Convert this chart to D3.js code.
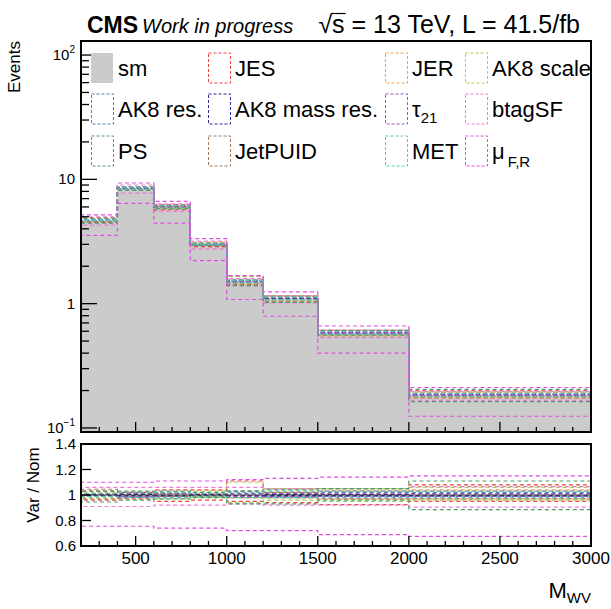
<!DOCTYPE html>
<html>
<head>
<meta charset="utf-8">
<title>M_WV systematics</title>
<style>
  body { margin: 0; background: #fff; }
  svg { display: block; font-family: "Liberation Sans", Arial, sans-serif; }
</style>
</head>
<body>
<script src="https://cdn.jsdelivr.net/npm/d3@7/dist/d3.min.js"></script>
<script>
// bin edges and nominal yields
var binEdges = [200, 400, 600, 800, 1000, 1200, 1500, 2000, 3000];
var smYield = [4.7, 8.5, 6.0, 3.0, 1.5, 1.1, 0.58, 0.184];

// variation / nominal per bin
var jesUp = [1.03, 1.02, 1.04, 1.04, 1.11, 1.05, 1.05, 1.08];
var jesDown = [0.96, 0.97, 0.95, 0.96, 0.95, 0.94, 0.925, 0.95];
var jerUp = [1.01, 1.01, 1.02, 1.01, 1.03, 1.02, 1.03, 1.04];
var jerDown = [0.99, 0.99, 0.98, 0.99, 0.98, 0.98, 0.97, 0.97];
var ak8ScaleUp = [1.02, 1.02, 1.02, 1.03, 1.10, 1.05, 1.05, 1.06];
var ak8ScaleDown = [0.98, 0.98, 0.97, 0.98, 0.94, 0.96, 0.95, 0.96];
var ak8ResUp = [1.01, 1.01, 1.02, 1.01, 1.03, 1.01, 1.02, 1.02];
var ak8ResDown = [0.99, 0.99, 0.99, 0.99, 0.99, 0.99, 0.99, 0.99];
var ak8MassResUp = [1.005, 1.005, 1.01, 1.005, 1.01, 1.005, 1.005, 1.01];
var ak8MassResDown = [0.995, 0.995, 0.995, 0.995, 0.995, 0.995, 0.995, 0.995];
var tau21Up = [1.01, 1.015, 1.01, 1.01, 1.01, 1.015, 1.01, 1.01];
var tau21Down = [0.99, 0.985, 0.99, 0.99, 0.99, 0.985, 0.99, 0.99];
var btagUp = [1.06, 1.06, 1.06, 1.06, 1.06, 1.05, 1.05, 1.065];
var btagDown = [0.91, 0.91, 0.92, 0.92, 0.93, 0.92, 0.92, 0.905];
var psUp = [1.03, 1.03, 1.03, 1.02, 1.03, 1.04, 1.05, 1.11];
var psDown = [0.945, 0.96, 0.97, 0.98, 0.93, 0.93, 0.96, 0.885];
var puidUp = [1.045, 1.02, 1.01, 1.01, 1.02, 1.02, 1.03, 1.03];
var puidDown = [0.97, 0.98, 0.99, 0.99, 0.98, 0.98, 0.97, 0.97];
var metUp = [1.01, 1.02, 1.02, 1.01, 1.02, 1.03, 1.03, 1.03];
var metDown = [0.99, 0.98, 0.98, 0.99, 0.98, 0.98, 0.98, 0.98];
var muFRUp = [1.10, 1.10, 1.11, 1.11, 1.12, 1.13, 1.14, 1.15];
var muFRDown = [0.755, 0.755, 0.74, 0.74, 0.72, 0.72, 0.69, 0.675];

var systNames = ["JES", "JER", "AK8 scale", "AK8 res.", "AK8 mass res.", "tau21", "btagSF", "PS", "JetPUID", "MET", "muFR"];
var systColors = ["#e8463c", "#eea24e", "#a6d05c", "#4c7cc4", "#2b2b9c", "#9a56c8", "#f07ad6", "#4f9a6a", "#a3795a", "#56c6be", "#e24ce4"];
var systUp = [jesUp, jerUp, ak8ScaleUp, ak8ResUp, ak8MassResUp, tau21Up, btagUp, psUp, puidUp, metUp, muFRUp];
var systDown = [jesDown, jerDown, ak8ScaleDown, ak8ResDown, ak8MassResDown, tau21Down, btagDown, psDown, puidDown, metDown, muFRDown];

var xTicks = [500, 1000, 1500, 2000, 2500, 3000];
var logTicks = [0.1, 1, 10, 100];
var ratioTicks = [0.6, 0.8, 1, 1.2, 1.4];

var W = 611, H = 609;
var svg = d3.select("body").append("svg").attr("width", W).attr("height", H);

var x = d3.scaleLinear().domain([200, 3000]).range([81, 591]);
var y = d3.scaleLog().domain([0.0928, 129.7]).range([432, 41]);
var yr = d3.scaleLinear().domain([0.6, 1.4]).range([546, 444]);

svg.append("clipPath").attr("id", "clipTop").append("rect")
    .attr("x", 81).attr("y", 41).attr("width", 510).attr("height", 391);
svg.append("clipPath").attr("id", "clipBot").append("rect")
    .attr("x", 81).attr("y", 444).attr("width", 510).attr("height", 102);

// step path through bins, dropping to the floor on both ends
function stepPts(vals) {
    var pts = [[binEdges[0], null]];
    vals.forEach(function(v, i) {
        pts.push([binEdges[i], v]);
        pts.push([binEdges[i + 1], v]);
    });
    pts.push([binEdges[binEdges.length - 1], null]);
    return pts;
}
var lineTop = d3.line()
    .x(function(d) { return x(d[0]); })
    .y(function(d) { return d[1] === null ? 440 : y(d[1]); });
var lineBot = d3.line()
    .x(function(d) { return x(d[0]); })
    .y(function(d) { return d[1] === null ? 560 : yr(d[1]); });

// ---- top pad ----
var topPad = svg.append("g").attr("clip-path", "url(#clipTop)");
topPad.append("path")
    .attr("d", lineTop(stepPts(smYield)) + "Z")
    .attr("fill", "#cbcbcb").attr("stroke", "none");

systNames.forEach(function(n, k) {
    [systUp[k], systDown[k]].forEach(function(r) {
        var vals = r.map(function(f, i) { return f * smYield[i]; });
        topPad.append("path")
            .attr("d", lineTop(stepPts(vals)))
            .attr("fill", "none")
            .attr("stroke", systColors[k])
            .attr("stroke-width", 1.2)
            .attr("stroke-dasharray", "4,3");
    });
});

// ---- ratio pad ----
var botPad = svg.append("g").attr("clip-path", "url(#clipBot)");
systNames.forEach(function(n, k) {
    [systUp[k], systDown[k]].forEach(function(r) {
        botPad.append("path")
            .attr("d", lineBot(stepPts(r)))
            .attr("fill", "none")
            .attr("stroke", systColors[k])
            .attr("stroke-width", 1.2)
            .attr("stroke-dasharray", "4,3");
    });
});
botPad.append("path")
    .attr("d", lineBot(stepPts(smYield.map(function() { return 1; }))))
    .attr("fill", "none").attr("stroke", "#333").attr("stroke-width", 1);

// ---- frames and ticks ----
function frame(y0, y1) {
    svg.append("rect").attr("x", 81).attr("y", y0).attr("width", 510).attr("height", y1 - y0)
        .attr("fill", "none").attr("stroke", "#000").attr("stroke-width", 2);
}
frame(41, 432);
frame(444, 546);

var ticks = svg.append("g").attr("stroke", "#000").attr("stroke-width", 1.3);
// log y ticks
logTicks.forEach(function(t) {
    ticks.append("line").attr("x1", 81).attr("x2", 97).attr("y1", y(t)).attr("y2", y(t));
});
[0.1, 1, 10].forEach(function(dec) {
    for (var m = 2; m <= 9; m++) {
        var v = dec * m;
        ticks.append("line").attr("x1", 81).attr("x2", 89).attr("y1", y(v)).attr("y2", y(v));
    }
});
// x ticks on both pads
for (var v = 300; v < 3000; v += 100) {
    var len = v % 500 === 0 ? 10 : 5;
    ticks.append("line").attr("x1", x(v)).attr("x2", x(v)).attr("y1", 432).attr("y2", 432 - len);
    ticks.append("line").attr("x1", x(v)).attr("x2", x(v)).attr("y1", 546).attr("y2", 546 - len);
}
ratioTicks.forEach(function(t) {
    ticks.append("line").attr("x1", 81).attr("x2", 91).attr("y1", yr(t)).attr("y2", yr(t));
});

// ---- labels ----
var lab = svg.append("g").attr("fill", "#000");
var logLab = [["10", "2"], ["10", null], ["1", null], ["10", "\u22121"]];
logTicks.slice().reverse().forEach(function(t, i) {
    var l = logLab[i];
    var txt = lab.append("text").attr("x", 75).attr("y", y(t) + 5)
        .attr("text-anchor", "end").attr("font-size", 15);
    txt.append("tspan").text(l[0]);
    if (l[1]) txt.append("tspan").attr("dy", -7).attr("font-size", 10).text(l[1]);
});
ratioTicks.forEach(function(t) {
    lab.append("text").attr("x", 76).attr("y", yr(t) + 5)
        .attr("text-anchor", "end").attr("font-size", 15)
        .text(t === 1 ? "1" : d3.format(".1f")(t));
});
xTicks.forEach(function(t) {
    lab.append("text").attr("x", x(t)).attr("y", 564)
        .attr("text-anchor", "middle").attr("font-size", 17).text(t);
});

var mwv = lab.append("text").attr("x", 591).attr("y", 598).attr("text-anchor", "end").attr("font-size", 22);
mwv.append("tspan").text("M");
mwv.append("tspan").attr("dy", 5).attr("font-size", 15).text("WV");

lab.append("text").attr("transform", "translate(20,41) rotate(-90)")
    .attr("text-anchor", "end").attr("font-size", 17).text("Events");
lab.append("text").attr("transform", "translate(39,485) rotate(-90)")
    .attr("text-anchor", "middle").attr("font-size", 17).text("Var / Nom");

// title
lab.append("text").attr("x", 87).attr("y", 33).attr("font-size", 23)
    .attr("font-weight", "bold").text("CMS");
lab.append("text").attr("x", 142).attr("y", 33).attr("font-size", 20)
    .attr("font-style", "italic").text("Work in progress");
var lumi = lab.append("text").attr("x", 580).attr("y", 33).attr("font-size", 25)
    .attr("text-anchor", "end").text("\u221As = 13 TeV, L = 41.5/fb");
// overline over the s of sqrt(s)
var ln = lumi.node();
var sx0 = ln.getStartPositionOfChar(1).x, sx1 = ln.getEndPositionOfChar(1).x;
lab.append("line").attr("x1", sx0 - 1).attr("x2", sx1 + 1).attr("y1", 13.5).attr("y2", 13.5)
    .attr("stroke", "#000").attr("stroke-width", 1.2);

// ---- legend ----
var legNames = ["sm"].concat(systNames);
var legColors = ["#cbcbcb"].concat(systColors);
var colBox = [91, 208, 385, 465];
var rowY = [68, 109, 151];
legNames.forEach(function(n, i) {
    var cx = colBox[i % 4], cy = rowY[Math.floor(i / 4)];
    var g = svg.append("g");
    if (i === 0) {
        g.append("rect").attr("x", cx).attr("y", cy - 15).attr("width", 22).attr("height", 30)
            .attr("fill", legColors[i]);
    } else {
        g.append("rect").attr("x", cx + 0.5).attr("y", cy - 15).attr("width", 22).attr("height", 30)
            .attr("fill", "none").attr("stroke", legColors[i]).attr("stroke-width", 1)
            .attr("stroke-dasharray", "3,2");
    }
    var t = g.append("text").attr("x", cx + 27).attr("y", cy + 8).attr("font-size", 22);
    if (n === "tau21") {
        t.append("tspan").text("\u03C4");
        t.append("tspan").attr("dy", 6).attr("font-size", 15).text("21");
    } else if (n === "muFR") {
        t.append("tspan").text("\u03BC");
        t.append("tspan").attr("dx", 3).attr("dy", 8).attr("font-size", 15).text("F,R");
    } else {
        t.text(n);
    }
});
</script>
</body>
</html>
